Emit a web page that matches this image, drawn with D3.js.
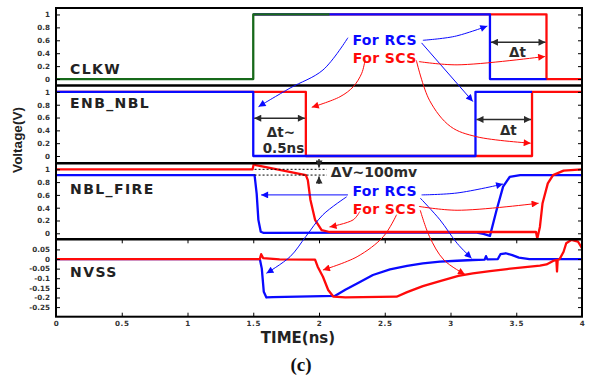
<!DOCTYPE html>
<html lang="en">
<head>
<meta charset="utf-8">
<title>NBL timing waveforms</title>
<script src="https://cdn.jsdelivr.net/npm/d3@7"></script>
<style>
  body { margin: 0; background: #fff; }
  text { font-family: "DejaVu Sans", sans-serif; font-weight: bold; }
</style>
</head>
<body>
<script>
// ---- data -------------------------------------------------------------
var timeTicks = [0, 0.5, 1, 1.5, 2, 2.5, 3, 3.5, 4];
var unitTicks = [0, 0.2, 0.4, 0.6, 0.8, 1];
var nvssTicks = [-0.25, -0.2, -0.15, -0.1, -0.05, 0, 0.05];
var panelNames = ["CLKW", "ENB_NBL", "NBL_FIRE", "NVSS"];

// waveforms as [time(ns), voltage(V)]
var clkw = [[0, 0], [1.5, 0], [1.5, 1], [2.08, 1]];
var clkwRcs = [[1.5, 1], [3.30, 1], [3.30, 0], [3.73, 0]];
var clkwScs = [[1.5, 1], [3.73, 1], [3.73, 0], [4, 0]];

var enbRcs = [[0, 1], [1.5, 1], [1.5, 0], [3.19, 0], [3.19, 1], [3.62, 1]];
var enbScs = [[0, 1], [1.9, 1], [1.9, 0], [3.62, 0], [3.62, 1], [4, 1]];

var fireRcs = [[0, 0.91], [1.51, 0.91], [1.526, 0.62], [1.539, 0.21], [1.557, 0.025],
  [1.58, 0.005], [2.5, 0.01], [3.2, 0.01], [3.25, -0.01], [3.30, -0.04], [3.35, 0.36],
  [3.40, 0.73], [3.45, 0.88], [3.53, 0.91], [4, 0.91]];
var fireScs = [[0, 1.0], [1.495, 1.0], [1.505, 1.09], [1.52, 1.065], [1.90, 0.91],
  [1.915, 0.83], [1.935, 0.52], [1.97, 0.21], [2.02, 0.05], [2.08, 0.02], [3.0, 0.02],
  [3.65, 0.02], [3.66, -0.08], [3.68, 0.10], [3.70, 0.47], [3.74, 0.78], [3.78, 0.91],
  [3.86, 0.98], [4, 1.0]];

var nvssRcs = [[0, 0], [1.55, 0], [1.565, -0.05], [1.58, -0.17], [1.6, -0.2], [1.65, -0.198],
  [2.12, -0.192], [2.2, -0.16], [2.29, -0.127], [2.41, -0.083], [2.54, -0.054],
  [2.67, -0.036], [2.79, -0.023], [2.92, -0.014], [3.05, -0.009], [3.17, -0.005],
  [3.26, -0.003], [3.27, 0.015], [3.28, -0.002], [3.36, 0.0], [3.38, 0.025], [3.42, 0.03],
  [3.47, 0.02], [3.52, 0.007], [3.6, 0.0], [4, 0]];
var nvssScs = [[0, 0], [1.55, 0], [1.56, 0.025], [1.575, 0.005], [1.7, -0.002], [1.97, -0.003],
  [1.99, -0.04], [2.03, -0.092], [2.07, -0.161], [2.11, -0.196], [2.2, -0.2], [2.59, -0.196],
  [2.67, -0.172], [2.79, -0.141], [2.92, -0.115], [3.06, -0.088], [3.17, -0.075],
  [3.30, -0.063], [3.43, -0.052], [3.55, -0.043], [3.68, -0.034], [3.73, -0.028],
  [3.78, -0.01], [3.805, -0.005], [3.81, -0.065], [3.815, -0.005], [3.83, 0.0],
  [3.86, 0.038], [3.88, 0.082], [3.92, 0.10], [3.97, 0.09], [4.0, 0.056]];

// annotation arrows, points are [panel, time, voltage], last point is the tip
var rcsArrows = [
  [[0, 2.22, 0.64], [0, 2.03, 0.14], [1, 1.78, 1.06], [1, 1.54, 0.77]],
  [[0, 2.79, 0.60], [0, 3.03, 0.66], [0, 3.28, 0.82]],
  [[0, 2.78, 0.56], [1, 3.17, 0.85]],
  [[2, 2.22, 0.60], [2, 1.56, 0.60]],
  [[2, 2.78, 0.60], [2, 3.05, 0.63], [2, 3.40, 0.77]],
  [[2, 2.77, 0.55], [2, 2.92, 0.21], [3, 3.05, 0.082], [3, 3.16, 0.004]],
  [[2, 2.21, 0.57], [2, 2.03, 0.29], [2, 1.90, -0.05], [3, 1.78, 0.012], [3, 1.60, -0.074]]
];
var scsArrows = [
  [[0, 2.35, 0.29], [0, 2.325, 0.09], [1, 2.26, 1.08], [1, 2.16, 0.925], [1, 1.945, 0.76]],
  [[0, 2.76, 0.27], [0, 3.05, 0.22], [0, 3.72, 0.35]],
  [[0, 2.74, 0.29], [1, 2.84, 0.87], [1, 3.0, 0.46], [1, 3.2, 0.3], [1, 3.61, 0.2]],
  [[2, 2.31, 0.34], [2, 2.26, 0.21], [2, 2.08, 0.10]],
  [[2, 2.76, 0.42], [2, 3.05, 0.36], [2, 3.67, 0.47]],
  [[2, 2.77, 0.36], [2, 2.84, -0.05], [3, 2.95, -0.005], [3, 3.11, -0.08]],
  [[2, 2.59, 0.29], [2, 2.49, -0.05], [3, 2.29, 0.012], [3, 2.03, -0.057]]
];
var rcsLabels = [[0, 2.5, 0.61], [2, 2.5, 0.655]];
var scsLabels = [[0, 2.5, 0.33], [2, 2.5, 0.385]];

// delta t arrows: [panel, from, to, voltage]
var deltaArrows = [[0, 3.30, 3.73, 0.57], [1, 3.19, 3.62, 0.57], [1, 1.5, 1.9, 0.59]];
var deltaLabels = [[0, 3.51, 0.42, "Δt"], [1, 3.44, 0.41, "Δt"], [1, 1.71, 0.37, "Δt~"], [1, 1.73, 0.12, "0.5ns"]];
// delta V on NBL_FIRE
var dvLevels = [1.0, 0.91];
var dvSpan = [1.51, 2.06];

// ---- layout -----------------------------------------------------------
var w = 589;
var h = 378;
var left = 56, right = 582;

var panels = [
  { top: 8,     bottom: 85.5,  domain: [-0.1, 1.1],    ticks: unitTicks, labelV: 0.08 },
  { top: 85.5,  bottom: 163.3, domain: [-0.114, 1.1],  ticks: unitTicks, labelV: 0.745 },
  { top: 163.3, bottom: 239.3, domain: [-0.094, 1.094], ticks: unitTicks, labelV: 0.61 },
  { top: 239.3, bottom: 316.7, domain: [-0.30, 0.1026], ticks: nvssTicks, labelV: -0.092 }
];

var xScale = d3.scaleLinear().domain([0, 4]).range([left, right]);
panels.forEach(function(p) {
  p.y = d3.scaleLinear().domain(p.domain).range([p.bottom, p.top]);
});

var pt = function(d) { return [xScale(d[1]), panels[d[0]].y(d[2])]; };

var svg = d3.select("body").append("svg")
  .attr("width", w).attr("height", h);

var defs = svg.append("defs");
var marker = function(id, color) {
  defs.append("marker")
    .attr("id", id)
    .attr("viewBox", "0 0 10 10")
    .attr("refX", 10).attr("refY", 5)
    .attr("markerUnits", "userSpaceOnUse")
    .attr("markerWidth", 9).attr("markerHeight", 7)
    .attr("orient", "auto-start-reverse")
    .append("path").attr("d", "M0,0L10,5L0,10z").attr("fill", color);
};
var blue = "#0a0aff", red = "#ff0a0a", green = "#17691a", ink = "#2b2b2b";
marker("mb", blue);
marker("mr", red);
marker("mk", ink);

panels.forEach(function(p, i) {
  defs.append("clipPath").attr("id", "clip" + i)
    .append("rect").attr("x", left).attr("y", p.top)
    .attr("width", right - left).attr("height", p.bottom - p.top);
});

// ---- waveforms ----------------------------------------------------------
var drawWave = function(i, data, color) {
  var line = d3.line()
    .x(function(d) { return xScale(d[0]); })
    .y(function(d) { return panels[i].y(d[1]); });
  svg.append("path")
    .attr("d", line(data))
    .attr("clip-path", "url(#clip" + i + ")")
    .attr("fill", "none")
    .attr("stroke", color)
    .attr("stroke-width", 2.3)
    .attr("stroke-linejoin", "round");
};

drawWave(0, clkwScs, red);
drawWave(0, clkwRcs, blue);
drawWave(0, clkw, green);
drawWave(1, enbScs, red);
drawWave(1, enbRcs, blue);
drawWave(2, fireRcs, blue);
drawWave(2, fireScs, red);
drawWave(3, nvssRcs, blue);
drawWave(3, nvssScs, red);

// ---- frame and axes -----------------------------------------------------
svg.append("rect")
  .attr("x", left).attr("y", panels[0].top)
  .attr("width", right - left).attr("height", panels[3].bottom - panels[0].top)
  .attr("fill", "none").attr("stroke", "#000").attr("stroke-width", 2);

panels.slice(0, 3).forEach(function(p) {
  svg.append("line")
    .attr("x1", left).attr("x2", right)
    .attr("y1", p.bottom).attr("y2", p.bottom)
    .attr("stroke", "#000").attr("stroke-width", 2.6);
});

var styleAxis = function(g, size) {
  g.select(".domain").remove();
  g.selectAll("line").attr("stroke", "#000").attr("stroke-width", 1);
  g.selectAll("text").attr("font-size", size).attr("fill", "#333");
};

panels.forEach(function(p) {
  svg.append("g")
    .attr("transform", "translate(" + left + ",0)")
    .call(d3.axisLeft(p.y).tickValues(p.ticks).tickSize(-4).tickPadding(6)
      .tickFormat(function(d) { return String(d); }))
    .call(styleAxis, 7.2);
  svg.append("g")
    .attr("transform", "translate(" + right + ",0)")
    .call(d3.axisRight(p.y).tickValues(p.ticks).tickSize(-4).tickFormat(""))
    .call(styleAxis, 7);
});

svg.append("g")
  .attr("transform", "translate(0," + panels[3].bottom + ")")
  .call(d3.axisBottom(xScale).tickValues(timeTicks).tickSize(-4).tickPadding(4)
    .tickFormat(function(d) { return String(d); }))
  .call(styleAxis, 7.2)
  .selectAll("text").attr("letter-spacing", 0.6);

svg.append("g")
  .attr("transform", "translate(0," + panels[3].top + ")")
  .call(d3.axisTop(xScale).tickValues(timeTicks).tickSize(-4).tickFormat(""))
  .call(styleAxis, 7);

// panel names
panels.forEach(function(p, i) {
  svg.append("text")
    .attr("x", xScale(0.107))
    .attr("y", p.y(p.labelV))
    .attr("font-size", 14)
    .attr("letter-spacing", 1.4)
    .attr("fill", "#222")
    .text(panelNames[i]);
});

// axis titles
svg.append("text")
  .attr("transform", "translate(22,140) rotate(-90)")
  .attr("text-anchor", "middle")
  .style("font-family", "'Liberation Sans', Arial, sans-serif")
  .attr("font-size", 13.5)
  .attr("fill", "#222")
  .text("Voltage(V)");

svg.append("text")
  .attr("x", 298).attr("y", 342.5)
  .attr("text-anchor", "middle")
  .attr("font-size", 15)
  .attr("fill", "#222")
  .text("TIME(ns)");

svg.append("text")
  .attr("x", 301).attr("y", 371)
  .attr("text-anchor", "middle")
  .style("font-family", "'Liberation Serif', serif")
  .attr("font-size", 19)
  .attr("fill", "#111")
  .text("(c)");

// ---- annotations ----------------------------------------------------------
var curve = d3.line().curve(d3.curveCatmullRom.alpha(0.5));

var drawArrows = function(list, color, id) {
  list.forEach(function(a) {
    svg.append("path")
      .attr("d", curve(a.map(pt)))
      .attr("fill", "none")
      .attr("stroke", color)
      .attr("stroke-width", 1)
      .attr("marker-end", "url(#" + id + ")");
  });
};
drawArrows(rcsArrows, blue, "mb");
drawArrows(scsArrows, red, "mr");

var drawLabels = function(list, txt, color) {
  list.forEach(function(d) {
    var p = pt(d);
    svg.append("text")
      .attr("x", p[0]).attr("y", p[1])
      .attr("dy", "0.36em")
      .attr("text-anchor", "middle")
      .attr("font-size", 14)
      .attr("letter-spacing", 0.4)
      .attr("fill", color)
      .text(txt);
  });
};
drawLabels(rcsLabels, "For RCS", blue);
drawLabels(scsLabels, "For SCS", red);

deltaArrows.forEach(function(d) {
  var y = panels[d[0]].y(d[3]);
  svg.append("line")
    .attr("x1", xScale(d[1]) + 1).attr("x2", xScale(d[2]) - 1)
    .attr("y1", y).attr("y2", y)
    .attr("stroke", ink).attr("stroke-width", 1.6)
    .attr("marker-start", "url(#mk)")
    .attr("marker-end", "url(#mk)");
});
deltaLabels.forEach(function(d) {
  svg.append("text")
    .attr("x", xScale(d[1])).attr("y", panels[d[0]].y(d[2]))
    .attr("dy", "0.36em")
    .attr("text-anchor", "middle")
    .attr("font-size", 13.5)
    .attr("fill", ink)
    .text(d[3]);
});

// delta V marks on NBL_FIRE
dvLevels.forEach(function(v) {
  svg.append("line")
    .attr("x1", xScale(dvSpan[0])).attr("x2", xScale(dvSpan[1]))
    .attr("y1", panels[2].y(v)).attr("y2", panels[2].y(v))
    .attr("stroke", "#000").attr("stroke-width", 1)
    .attr("stroke-dasharray", "2,2");
});
[[1.16, 1.03], [0.77, 0.888]].forEach(function(d) {
  svg.append("line")
    .attr("x1", xScale(2.0)).attr("x2", xScale(2.0))
    .attr("y1", panels[2].y(d[0])).attr("y2", panels[2].y(d[1]))
    .attr("stroke", "#000").attr("stroke-width", 1.2)
    .attr("marker-end", "url(#mk)");
});
svg.append("text")
  .attr("x", xScale(2.09)).attr("y", panels[2].y(0.957))
  .attr("dy", "0.36em")
  .attr("font-size", 14)
  .attr("fill", ink)
  .text("ΔV~100mv");
</script>
</body>
</html>
